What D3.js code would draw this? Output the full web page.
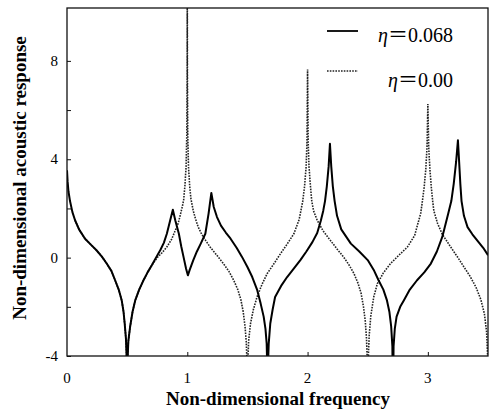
<!DOCTYPE html>
<html>
<head>
<meta charset="utf-8">
<script src="https://cdn.jsdelivr.net/npm/d3@7"></script>
<style>
  body { margin: 0; background: #fff; }
  svg { font-family: "Liberation Serif", "Times New Roman", serif; }
  .frame { fill: none; stroke: #111; stroke-width: 1.3; }
  .tick line { stroke: #111; }
  .solid { fill: none; stroke: #000; stroke-width: 2; stroke-linejoin: round; }
  .dotted { fill: none; stroke: #222; stroke-width: 1.6; stroke-dasharray: 1.6,1.2; }
</style>
</head>
<body>
<svg id="chart"></svg>
<script>
var width = 492,
    height = 409;

// eta = 0.068 (solid)
var solidFreq = [0, 0.005, 0.012, 0.025, 0.045, 0.067, 0.1, 0.15, 0.2, 0.245, 0.29, 0.33, 0.37, 0.40, 0.43, 0.455, 0.47, 0.48, 0.49, 0.497, 0.5,
                 0.503, 0.51, 0.525, 0.545, 0.567, 0.6, 0.636, 0.67, 0.705, 0.74, 0.775, 0.805, 0.83, 0.858, 0.88, 0.9, 0.93, 0.95, 0.97, 0.99, 1.005,
                 1.02, 1.05, 1.08, 1.11, 1.15, 1.177, 1.2, 1.22, 1.247, 1.28, 1.32, 1.36, 1.41, 1.455, 1.5, 1.54, 1.58, 1.61, 1.635, 1.65, 1.66, 1.665, 1.667,
                 1.67, 1.677, 1.69, 1.71, 1.73, 1.78, 1.83, 1.89, 1.94, 1.99, 2.04, 2.08, 2.11, 2.13, 2.145, 2.16, 2.175, 2.186, 2.197, 2.21, 2.225, 2.245, 2.28,
                 2.36, 2.43, 2.5, 2.55, 2.59, 2.63, 2.66, 2.68, 2.695, 2.705, 2.71, 2.715, 2.725, 2.74, 2.77, 2.8, 2.85, 2.91, 2.97, 3.025, 3.075, 3.12, 3.17,
                 3.195, 3.215, 3.235, 3.25, 3.26, 3.27, 3.28, 3.3, 3.33, 3.37, 3.41, 3.46, 3.5];
var solidResp = [3.55, 3.1, 2.7, 2.3, 1.85, 1.52, 1.15, 0.77, 0.52, 0.3, 0.04, -0.24, -0.55, -0.92, -1.3, -1.74, -2.2, -2.7, -3.3, -4.2, -6,
                 -4.2, -3.4, -2.8, -2.2, -1.74, -1.3, -0.92, -0.6, -0.31, 0.0, 0.3, 0.6, 0.97, 1.52, 1.95, 1.52, 0.97, 0.45, 0.0, -0.45, -0.72,
                 -0.5, -0.1, 0.25, 0.55, 0.97, 1.79, 2.63, 2.06, 1.65, 1.3, 1.02, 0.77, 0.4, 0.03, -0.38, -0.79, -1.3, -1.87, -2.4, -2.9, -3.5, -4.5, -6,
                 -4.5, -3.5, -2.68, -2.1, -1.6, -1.15, -0.79, -0.42, -0.1, 0.25, 0.63, 1.0, 1.5, 1.9, 2.3, 2.9, 3.7, 4.63, 3.7, 2.9, 2.3, 1.7, 1.15,
                 0.57, 0.25, -0.1, -0.5, -0.92, -1.3, -1.74, -2.2, -2.8, -3.6, -6, -3.6, -2.9, -2.4, -2.0, -1.74, -1.3, -0.92, -0.6, -0.24, 0.25, 0.84, 1.8,
                 2.3, 3.0, 3.9, 4.77, 3.9, 3.0, 2.3, 1.7, 1.24, 0.95, 0.7, 0.4, 0.1];

// eta = 0.00 (dotted)
var dottedFreq = [0.067, 0.1, 0.15, 0.2, 0.245, 0.29, 0.33, 0.37, 0.40, 0.43, 0.455, 0.47, 0.48, 0.49, 0.497, 0.5,
                  0.503, 0.51, 0.525, 0.545, 0.567, 0.6, 0.636, 0.67, 0.705, 0.75, 0.79, 0.83, 0.87, 0.9, 0.925, 0.945, 0.96, 0.97, 0.98, 0.99, 0.996, 0.999, 1.0,
                  1.001, 1.004, 1.01, 1.02, 1.03, 1.05, 1.067, 1.09, 1.12, 1.155, 1.19, 1.245, 1.30, 1.345, 1.386, 1.42, 1.445, 1.465, 1.48, 1.49, 1.497, 1.5,
                  1.503, 1.51, 1.525, 1.55, 1.58, 1.62, 1.664, 1.72, 1.775, 1.83, 1.886, 1.93, 1.96, 1.975, 1.988, 1.995, 2.0,
                  2.005, 2.012, 2.024, 2.035, 2.05, 2.08, 2.13, 2.19, 2.245, 2.30, 2.345, 2.386, 2.42, 2.445, 2.465, 2.48, 2.49, 2.497, 2.5,
                  2.503, 2.512, 2.525, 2.55, 2.58, 2.63, 2.69, 2.76, 2.83, 2.89, 2.94, 2.955, 2.97, 2.983, 2.993, 3.0,
                  3.007, 3.017, 3.028, 3.04, 3.05, 3.08, 3.12, 3.19, 3.25, 3.30, 3.35, 3.40, 3.44, 3.47, 3.488, 3.497, 3.5];
var dottedResp = [1.52, 1.15, 0.77, 0.52, 0.3, 0.04, -0.24, -0.55, -0.92, -1.3, -1.74, -2.2, -2.7, -3.3, -4.2, -6,
                  -4.2, -3.4, -2.8, -2.2, -1.74, -1.3, -0.92, -0.6, -0.31, 0.0, 0.2, 0.43, 0.75, 1.1, 1.4, 1.8, 2.1, 2.35, 2.9, 3.7, 5, 7.5, 12,
                  7.5, 5, 3.7, 2.9, 2.4, 1.9, 1.6, 1.25, 0.95, 0.68, 0.43, 0.1, -0.24, -0.55, -0.92, -1.3, -1.7, -2.2, -2.8, -3.4, -4.3, -6,
                  -4.3, -3.4, -2.7, -2.1, -1.6, -1.1, -0.65, -0.25, 0.16, 0.55, 0.97, 1.55, 2.3, 2.9, 3.7, 4.7, 7.65,
                  4.7, 3.7, 2.9, 2.3, 1.9, 1.52, 1.08, 0.7, 0.35, 0.02, -0.3, -0.65, -1.05, -1.45, -2.0, -2.6, -3.3, -4.3, -6,
                  -4.3, -3.2, -2.4, -1.6, -1.06, -0.62, -0.24, 0.1, 0.43, 0.9, 1.79, 2.3, 2.9, 3.6, 4.5, 6.25,
                  4.5, 3.6, 2.9, 2.3, 1.9, 1.4, 0.95, 0.43, 0.0, -0.38, -0.75, -1.2, -1.7, -2.28, -3.0, -4.0, -6];

var xTicks = [0, 1, 2, 3];
var yTicks = [-4, -2, 0, 2, 4, 6, 8];
var yLabels = [-4, 0, 4, 8];
var legendNames = ["0.068", "0.00"];

var pLeft = 67, pRight = 488, pTop = 8, pBottom = 356;

var x = d3.scaleLinear().domain([0, 3.5]).range([pLeft, pRight]);
var y = d3.scaleLinear().domain([-4, 10.15]).range([pBottom, pTop]);

var svg = d3.select("#chart")
            .attr("width", width)
            .attr("height", height);

svg.append("clipPath").attr("id", "clip")
   .append("rect")
     .attr("x", pLeft).attr("y", pTop)
     .attr("width", pRight - pLeft).attr("height", pBottom - pTop);

var line = d3.line()
             .x(function(d) { return x(d[0]); })
             .y(function(d) { return y(d[1]); });

var solid = solidFreq.map(function(f, i) { return [f, solidResp[i]]; });
var dotted = dottedFreq.map(function(f, i) { return [f, dottedResp[i]]; });

var plot = svg.append("g").attr("clip-path", "url(#clip)");
plot.append("path").datum(dotted).attr("class", "dotted").attr("d", line);
plot.append("path").datum(solid).attr("class", "solid").attr("d", line);

// inward ticks
svg.append("g")
   .attr("transform", "translate(" + pLeft + ",0)")
   .call(d3.axisRight(y).tickValues(yTicks).tickSize(4).tickFormat(""))
   .call(function(g) { g.select(".domain").remove(); });

svg.append("g")
   .attr("transform", "translate(0," + pBottom + ")")
   .call(d3.axisTop(x).tickValues(xTicks.slice(1)).tickSize(4).tickFormat(""))
   .call(function(g) { g.select(".domain").remove(); });

svg.append("rect").attr("class", "frame")
   .attr("x", pLeft).attr("y", pTop)
   .attr("width", pRight - pLeft).attr("height", pBottom - pTop);

svg.selectAll("text.ylab")
   .data(yLabels)
   .enter().append("text")
     .attr("class", "ylab")
     .attr("x", 58)
     .attr("y", function(d) { return y(d) + 5; })
     .attr("text-anchor", "end")
     .style("font-size", "15px")
     .text(function(d) { return d; });

svg.selectAll("text.xlab")
   .data(xTicks)
   .enter().append("text")
     .attr("class", "xlab")
     .attr("x", function(d) { return x(d); })
     .attr("y", 383)
     .attr("text-anchor", "middle")
     .style("font-size", "15px")
     .text(function(d) { return d; });

svg.append("text")
   .attr("x", 278).attr("y", 405)
   .attr("text-anchor", "middle")
   .style("font-size", "19px").style("font-weight", "bold")
   .text("Non-dimensional frequency");

svg.append("text")
   .attr("transform", "translate(26,178) rotate(-90)")
   .attr("text-anchor", "middle")
   .style("font-size", "19px").style("font-weight", "bold")
   .text("Non-dimensional acoustic response");

// legend
var legend = svg.selectAll("g.legend")
   .data(legendNames)
   .enter().append("g")
     .attr("class", "legend");

legend.append("line")
   .attr("x1", 327).attr("x2", 358)
   .attr("y1", function(d, i) { return i == 0 ? 31 : 71; })
   .attr("y2", function(d, i) { return i == 0 ? 31 : 71; })
   .attr("class", function(d, i) { return i == 0 ? "solid" : "dotted"; })
   .style("stroke-width", function(d, i) { return i == 0 ? 1.8 : 1.4; });

var lt = legend.append("text")
   .attr("x", 453)
   .attr("y", function(d, i) { return i == 0 ? 42 : 87; })
   .attr("text-anchor", "end")
   .style("font-size", "20px");
lt.append("tspan").style("font-style", "italic").text("\u03b7");
lt.append("tspan").style("font-family", "'Noto Sans CJK JP'").text("\uff1d");
lt.append("tspan").text(function(d) { return d; });
</script>
</body>
</html>
